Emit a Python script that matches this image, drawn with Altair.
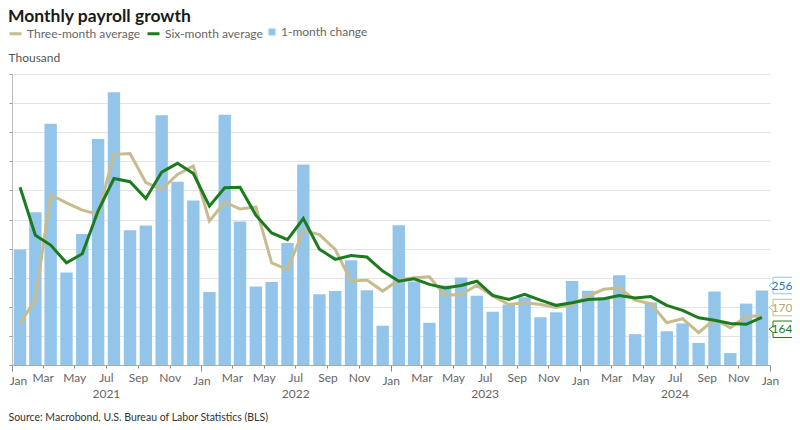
import altair as alt
import pandas as pd

# ---------------- data ----------------
months = pd.date_range("2021-01-01", periods=48, freq="MS")
mid = months + ((months + pd.offsets.MonthBegin(1)) - months) / 2
dates = [d.strftime("%Y-%m-%dT%H:%M:%S") for d in mid]

one_month = [397, 525, 829, 318, 450, 777, 937, 463, 479, 858,
             630, 565, 251, 860, 493, 270, 285, 419, 689, 243,
             254, 360, 257, 135, 480, 287, 145, 273, 301, 238,
             183, 208, 233, 164, 181, 289, 255, 233, 308, 106,
             215, 116, 143, 76, 253, 41, 211, 256]

three_month = [143, 225, 585, 557, 532, 518, 724, 727, 627, 604,
               655, 684, 495, 560, 536, 543, 351, 328, 462, 448,
               397, 288, 292, 254, 292, 300, 303, 239, 243, 273,
               237, 208, 214, 208, 198, 208, 237, 260, 265, 223,
               210, 145, 159, 111, 157, 128, 166, 170]

six_month = [611, 446, 412, 351, 382, 530, 641, 630, 572, 663,
             693, 658, 546, 609, 611, 515, 454, 431, 503, 398,
             363, 376, 371, 323, 288, 296, 277, 265, 273, 288,
             239, 225, 243, 223, 205, 214, 225, 228, 239, 230,
             235, 205, 188, 162, 154, 143, 140, 164]

series_names = ["Three-month average", "Six-month average", "1-month change"]

# ---------------- styles ----------------
FONT = "Lato"
BLUE = "#93c5eb"
GREEN = "#1b7b1e"
TAN = "#c7bc8e"

rows = []
for d, a, b, c in zip(dates, three_month, six_month, one_month):
    rows.append({"date": d, "series": series_names[0], "value": a})
    rows.append({"date": d, "series": series_names[1], "value": b})
    rows.append({"date": d, "series": series_names[2], "value": c})
df = pd.DataFrame(rows)

tick_dates = [alt.DateTime(year=y, month=m, date=1)
              for y in range(2021, 2025) for m in range(1, 13, 2)]
tick_dates.append(alt.DateTime(year=2025, month=1, date=1))

first_tick = "year(datum.value) == 2021 && month(datum.value) == 0"

x_enc = alt.X(
    "date:T",
    scale=alt.Scale(domain=[alt.DateTime(year=2021, month=1, date=1),
                            alt.DateTime(year=2025, month=1, date=1)],
                    padding=0),
    axis=alt.Axis(
        values=tick_dates,
        labelExpr="month(datum.value) == 6 ? [timeFormat(datum.value, '%b'), timeFormat(datum.value, '%Y')] : timeFormat(datum.value, '%b')",
        labelLineHeight=16,
        labelFont=FONT, labelFontSize=12, labelColor="#666",
        labelPadding=4, labelOverlap=False, labelFlush=False,
        labelOffset={"condition": {"test": first_tick, "value": 6}, "value": 0},
        tickSize={"condition": {"test": "month(datum.value) == 0", "value": 6}, "value": 3},
        tickColor="#888", domainColor="#aaa",
        grid=False,
        title="Source: Macrobond, U.S. Bureau of Labor Statistics (BLS)",
        titleFont=FONT, titleFontSize=10.5, titleFontWeight="normal", titleColor="#333",
        titleAnchor="start", titleAlign="left", titleBaseline="middle",
        titleX=-4, titleY=52,
    ),
)

y_enc = alt.Y(
    "value:Q",
    scale=alt.Scale(domain=[0, 1000], padding=0),
    axis=alt.Axis(
        values=list(range(0, 1001, 100)),
        labelFont=FONT, labelFontSize=12, labelColor="#666",
        tickSize=3, tickColor="#999", domainColor="#bbb",
        gridColor="#e4e4e4",
        title="Thousand", titleFont=FONT, titleFontSize=12,
        titleFontWeight="normal", titleColor="#555",
        titleAngle=0, titleAlign="left", titleBaseline="alphabetic",
        titleX=-4, titleY=-13,
    ),
)

base = alt.Chart(df)

bars = base.transform_filter(alt.datum.series == series_names[2]).mark_bar(width=12.4).encode(
    x=x_enc,
    y=y_enc,
    fill=alt.Fill("series:N",
                  scale=alt.Scale(domain=[series_names[2]], range=[BLUE]),
                  legend=alt.Legend(orient="none", legendX=254, legendY=-48, title=None,
                                    symbolType="square", symbolSize=49, symbolStrokeWidth=0,
                                    labelFont=FONT, labelFontSize=12, labelColor="#666",
                                    labelOffset=3)),
)

lines = base.transform_filter(alt.datum.series != series_names[2]).mark_line(strokeWidth=3).encode(
    x=x_enc,
    y=y_enc,
    color=alt.Color("series:N",
                    scale=alt.Scale(domain=series_names[:2], range=[TAN, GREEN]),
                    legend=alt.Legend(orient="none", legendX=-4, legendY=-48, title=None,
                                      direction="horizontal", symbolType="stroke",
                                      symbolStrokeWidth=3, symbolSize=144,
                                      labelFont=FONT, labelFontSize=12, labelColor="#666",
                                      labelOffset=4, columnPadding=0)),
    order=alt.Order("series:N", sort="descending"),
)

# end-of-series value callouts
callout_shape = "M -0.73 -0.55 L 1 -0.55 L 1 0.55 L -0.73 0.55 L -0.73 0.2 L -1 0 L -0.73 -0.2 Z"
last = df[df["date"] == dates[-1]]
callouts = []
for name, border, txt, yoff in [(series_names[2], BLUE, "#2f78ad", -5),
                                (series_names[0], TAN, "#b3a771", -8),
                                (series_names[1], GREEN, GREEN, 12)]:
    src = alt.Chart(last).transform_filter(alt.datum.series == name)
    box = src.mark_point(shape=callout_shape, size=900, filled=True, fill="white",
                         stroke=border, strokeWidth=1, opacity=1,
                         xOffset=22, yOffset=yoff).encode(x=x_enc, y=y_enc)
    lab = src.mark_text(font=FONT, fontSize=12, color=txt, align="center",
                        baseline="middle", dx=20, dy=yoff).encode(
        x=x_enc, y=y_enc, text=alt.Text("value:Q", format="d"))
    callouts += [box, lab]

chart = alt.layer(bars, lines, *callouts).resolve_scale(
    color="independent", fill="independent"
).properties(
    width=758,
    height=291,
    autosize=alt.AutoSizeParams(type="none"),
    padding={"left": 4, "top": 66, "right": 22, "bottom": 57},
    title=alt.TitleParams("Monthly payroll growth", anchor="start", frame="group",
                          dx=-4, dy=1, font=FONT, fontSize=17.5, fontWeight="bold",
                          color="#1a1a1a", offset=2),
    background="white",
).configure_view(stroke=None)

chart.save("out.html", embed_options={"renderer": "svg", "actions": False})
